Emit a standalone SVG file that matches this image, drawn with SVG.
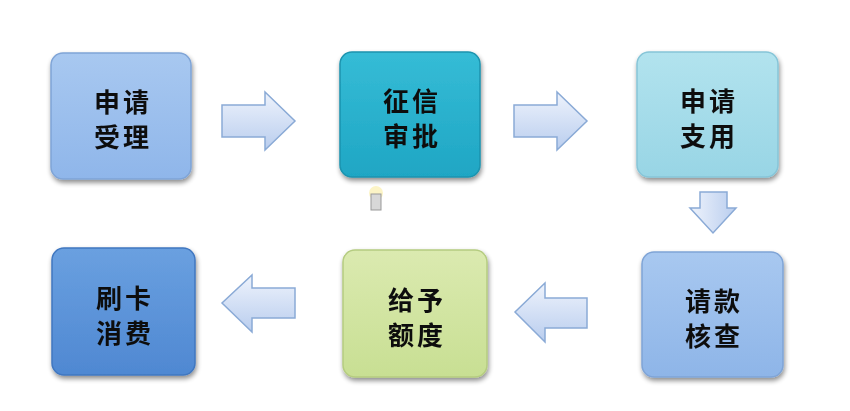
<svg xmlns="http://www.w3.org/2000/svg" width="850" height="411" viewBox="0 0 850 411">
<defs>
<style>
.t{font-family:"Noto Sans CJK SC","Noto Sans CJK TC",sans-serif;font-size:26px;font-weight:bold;fill:#111;text-anchor:middle;letter-spacing:3px}
.box{stroke-width:1.5}
.arr{fill:url(#ga);stroke:#8aaad6;stroke-width:1.5;stroke-linejoin:miter}
</style>
<filter id="sh" x="-20%" y="-20%" width="140%" height="140%">
<feGaussianBlur in="SourceAlpha" stdDeviation="2.5"/>
<feOffset dx="1" dy="3" result="b"/>
<feComponentTransfer><feFuncA type="linear" slope="0.45"/></feComponentTransfer>
<feMerge><feMergeNode/><feMergeNode in="SourceGraphic"/></feMerge>
</filter>
<linearGradient id="g1" x1="0" y1="0" x2="0" y2="1"><stop offset="0" stop-color="#a8c8f0"/><stop offset="1" stop-color="#8fb6ea"/></linearGradient>
<linearGradient id="g2" x1="0" y1="0" x2="0" y2="1"><stop offset="0" stop-color="#35bcd6"/><stop offset="1" stop-color="#1fa6c4"/></linearGradient>
<linearGradient id="g3" x1="0" y1="0" x2="0" y2="1"><stop offset="0" stop-color="#b2e3ee"/><stop offset="1" stop-color="#98d5e5"/></linearGradient>
<linearGradient id="g4" x1="0" y1="0" x2="0" y2="1"><stop offset="0" stop-color="#a8c8f0"/><stop offset="1" stop-color="#8eb5e8"/></linearGradient>
<linearGradient id="g5" x1="0" y1="0" x2="0" y2="1"><stop offset="0" stop-color="#dbeab0"/><stop offset="1" stop-color="#c8df93"/></linearGradient>
<linearGradient id="g6" x1="0" y1="0" x2="0" y2="1"><stop offset="0" stop-color="#6aa0e0"/><stop offset="1" stop-color="#4f88d2"/></linearGradient>
<linearGradient id="ga" x1="0" y1="0" x2="0" y2="1"><stop offset="0" stop-color="#eef3fc"/><stop offset="1" stop-color="#b9cdee"/></linearGradient>
<linearGradient id="gd" x1="0" y1="0" x2="1" y2="0"><stop offset="0" stop-color="#eef3fc"/><stop offset="1" stop-color="#b9cdee"/></linearGradient>
</defs>
<rect width="850" height="411" fill="#ffffff"/>

<g id="connectors">
<polygon class="arr" points="222,105 265,105 265,92 295,121 265,150 265,137 222,137"/>
<polygon class="arr" points="514,105 557,105 557,92 587,121 557,150 557,137 514,137"/>
<polygon points="700,192 727,192 727,208 736,208 713,233 690,208 700,208" fill="url(#gd)" stroke="#8aaad6" stroke-width="1.5"/>
<polygon class="arr" points="587,298 545,298 545,283 515,312 545,342 545,328 587,328"/>
<polygon class="arr" points="295,288 252,288 252,275 222,303 252,332 252,318 295,318"/>
</g>

<g id="n1" filter="url(#sh)"><rect class="box" x="51" y="53" width="140" height="126" rx="12" fill="url(#g1)" stroke="#7fa4d6"/>
<text class="t" x="123" y="112">申请</text><text class="t" x="123" y="147">受理</text></g>
<g id="n2" filter="url(#sh)"><rect class="box" x="340" y="52" width="140" height="125" rx="12" fill="url(#g2)" stroke="#1b93ae"/>
<text class="t" x="412" y="111">征信</text><text class="t" x="412" y="146">审批</text></g>
<g id="n3" filter="url(#sh)"><rect class="box" x="637" y="52" width="141" height="125" rx="12" fill="url(#g3)" stroke="#86c5d8"/>
<text class="t" x="709" y="111">申请</text><text class="t" x="709" y="146">支用</text></g>
<g id="n4" filter="url(#sh)"><rect class="box" x="642" y="252" width="141" height="125" rx="12" fill="url(#g4)" stroke="#7fa4d6"/>
<text class="t" x="714" y="311">请款</text><text class="t" x="714" y="346">核查</text></g>
<g id="n5" filter="url(#sh)"><rect class="box" x="343" y="250" width="144" height="127" rx="12" fill="url(#g5)" stroke="#b5cc80"/>
<text class="t" x="417" y="310">给予</text><text class="t" x="417" y="345">额度</text></g>
<g id="n6" filter="url(#sh)"><rect class="box" x="52" y="248" width="143" height="127" rx="12" fill="url(#g6)" stroke="#4077c0"/>
<text class="t" x="125" y="308">刷卡</text><text class="t" x="125" y="343">消费</text></g>

<g id="cursor"><circle cx="376" cy="193" r="7" fill="#fbf1b8" opacity="0.8"/><rect x="371" y="194" width="10" height="16" fill="#d8d8d8" stroke="#999" stroke-width="1"/></g>
</svg>
